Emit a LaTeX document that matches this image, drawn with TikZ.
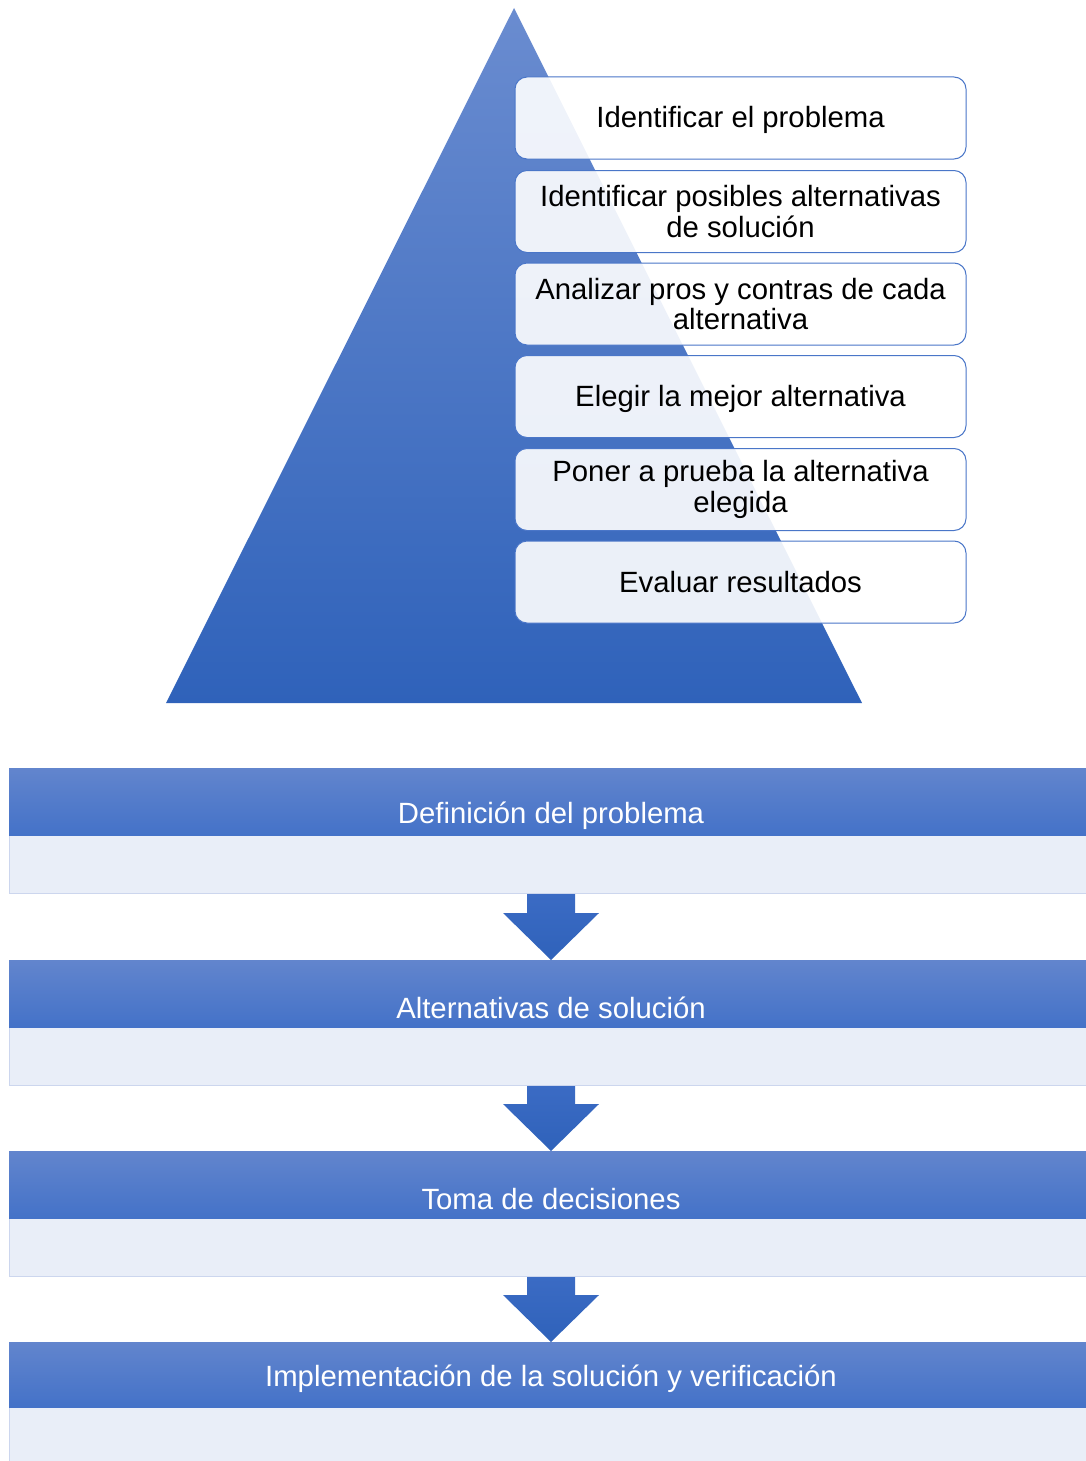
\documentclass[tikz,border=0pt]{standalone}
\usepackage{fontspec}
\setmainfont{Liberation Sans}
\definecolor{triTop}{HTML}{6A8CD0}
\definecolor{triBot}{HTML}{2F62BA}
\definecolor{hdTop}{HTML}{6285CD}
\definecolor{hdBot}{HTML}{4472C8}
\definecolor{arTop}{HTML}{3B6BC4}
\definecolor{arBot}{HTML}{2F62BA}
\definecolor{bodyFill}{HTML}{E9EEF8}
\definecolor{bodyLine}{HTML}{CCD6EE}
\definecolor{boxLine}{HTML}{4A76C8}
\newcommand{\lowertext}[1]{\raisebox{-2pt}[\height][\depth]{#1}}
\begin{document}
\begin{tikzpicture}[x=1pt,y=-1pt,
  stepbox/.style={draw=boxLine, line width=1pt, rounded corners=12pt, fill=white, fill opacity=0.9, text opacity=1,
    minimum width=451pt, minimum height=82pt, align=center, inner sep=0pt,
    font=\fontsize{29.3}{30.5}\selectfont, text=black},
  hdtext/.style={font=\fontsize{29.3}{30.5}\selectfont, text=white, inner sep=0pt},
  body/.style={fill=bodyFill, draw=bodyLine, line width=0.8pt},
  blockarrow/.style={top color=arTop, bottom color=arBot, draw=none}]
\useasboundingbox (0,0) rectangle (1086,1461);
% pyramid
\shade[top color=triTop, bottom color=triBot] (514,8) -- (862,703) -- (166,703) -- cycle;
% steps
\node[stepbox] (s1) at (740.5,118) {\lowertext{Identificar el problema}};
\node[stepbox] (s2) at (740.5,211.5) {Identificar posibles alternativas\\de solución};
\node[stepbox] (s3) at (740.5,304) {Analizar pros y contras de cada\\alternativa};
\node[stepbox] (s4) at (740.5,396.5) {\lowertext{Elegir la mejor alternativa}};
\node[stepbox] (s5) at (740.5,489.5) {Poner a prueba la alternativa\\elegida};
\node[stepbox] (s6) at (740.5,582) {Evaluar resultados};
% bands
\foreach \t/\b/\e in {768/835/893, 960/1027/1085, 1151/1218/1276, 1342/1407/1470}{
  \fill[body] (9,\b) rectangle (1090,\e);
  \shade[top color=hdTop, bottom color=hdBot] (9,\t) rectangle (1086,\b);
}
\node[hdtext] (h1) at (551,816) {Definición del problema};
\node[hdtext] (h2) at (551,1008) {Alternativas de solución};
\node[hdtext] (h3) at (551,1199) {Toma de decisiones};
\node[hdtext] (h4) at (551,1379) {Implementación de la solución y verificación};
% block arrows
\foreach \s/\m/\tip in {894/913/960, 1086/1104/1151, 1277/1295/1342}{
  \shade[blockarrow] (527,\s) -- (575,\s) -- (575,\m) -- (599,\m) -- (551,\tip) -- (503,\m) -- (527,\m) -- cycle;
}
\end{tikzpicture}
\end{document}
